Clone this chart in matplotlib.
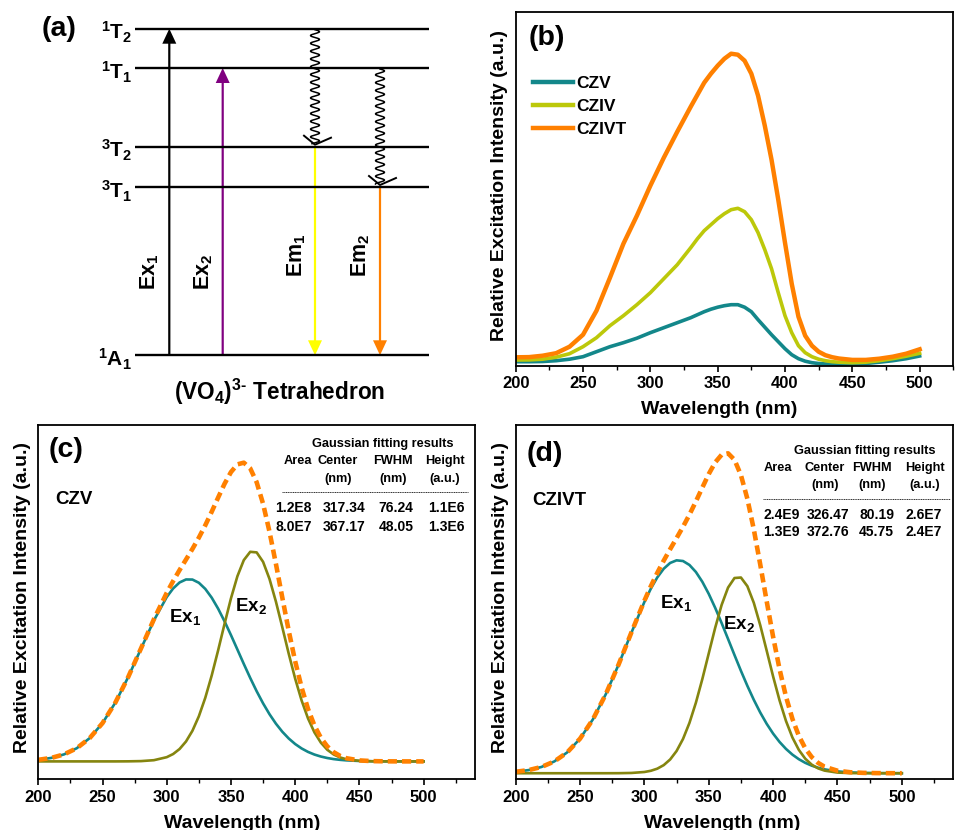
import numpy as np
import matplotlib
matplotlib.use('Agg')
import matplotlib.pyplot as plt
from matplotlib.lines import Line2D

W, H = 967, 830

plt.rcParams['font.family'] = ['Liberation Sans', 'DejaVu Sans']
plt.rcParams['font.weight'] = 'bold'
plt.rcParams['mathtext.fontset'] = 'custom'
plt.rcParams['mathtext.rm'] = 'Liberation Sans:bold'
plt.rcParams['mathtext.bf'] = 'Liberation Sans:bold'
plt.rcParams['mathtext.it'] = 'Liberation Sans:bold'
plt.rcParams['mathtext.default'] = 'bf'

# ---- (b) measured excitation spectra ----
wl_b = [200, 210, 220, 230, 240, 250, 260, 270, 280, 290, 300, 310, 320, 330,
        335, 340, 345, 350, 355, 360, 365, 370, 375, 380, 385, 390, 395, 400,
        405, 410, 415, 420, 425, 430, 435, 440,
        450, 460, 470, 480, 490, 500]
czivt = [8.4, 8.6, 10.0, 12.5, 19, 31, 55, 88, 122, 150, 180, 208, 234, 259,
         271, 283, 292, 300, 307, 312, 311, 305, 292, 270, 240, 206, 166, 123,
         82, 49, 30, 20, 14, 10.5, 8.5, 7.2,
         5.8, 5.8, 7, 9, 12, 16.4]
cziv = [5.7, 5.8, 6.5, 8.5, 12, 19, 28, 40, 50, 61, 73, 87, 101, 118,
        127, 135, 141, 147, 152, 156, 157.4, 154, 146, 133, 116, 97, 73, 50,
        33, 20, 13, 9, 6.5, 5, 4, 3.5,
        3, 3.5, 5, 7, 9.5, 12.4]
czv = [4, 4, 4.2, 5, 6.5, 9, 14, 19, 23, 27.5, 33, 38, 43, 48,
       51, 54, 56.5, 58.5, 60, 61, 61, 58.5, 54, 46, 38.5, 31, 24, 17,
       11, 7, 4.5, 3, 2.2, 1.8, 1.6, 1.5,
       1.6, 2.2, 3.5, 5, 7, 9.7]

# ---- (c), (d) gaussian components and cumulative fit ----
wl_fit = [200, 210, 220, 230, 240, 250, 260, 270, 280, 290,
          300, 305, 310, 315, 320, 325, 330, 335, 340, 345, 350, 355, 360, 365,
          370, 375, 380, 385, 390, 395, 400, 405, 410, 415, 420, 425, 430, 435,
          440, 450, 460, 470, 480, 490, 500]
czv_ex1 = [0.0096, 0.0209, 0.0422, 0.0797, 0.1405, 0.2311, 0.3549, 0.5088, 0.6808, 0.8505,
           0.9919, 1.0438, 1.0798, 1.0979, 1.0973, 1.0780, 1.0409, 0.9881, 0.9218, 0.8454,
           0.7621, 0.6753, 0.5881, 0.5035, 0.4236, 0.3504, 0.2849, 0.2277, 0.1789, 0.1381,
           0.1048, 0.0782, 0.0573, 0.0413, 0.0293, 0.0204, 0.0139, 0.0094, 0.0062,
           0.0026, 0.0010, 0.0004, 0.0001, 0.0, 0.0]
czv_ex2 = [0, 0, 0, 0, 0, 0, 0, 0.0004, 0.0018, 0.0073,
           0.0255, 0.0446, 0.0749, 0.1202, 0.1848, 0.2722, 0.3838, 0.5182, 0.6700, 0.8297,
           0.9837, 1.1171, 1.2146, 1.2648, 1.2612, 1.2043, 1.1012, 0.9643, 0.8086, 0.6492,
           0.4992, 0.3677, 0.2592, 0.1750, 0.1132, 0.0701, 0.0416, 0.0236, 0.0128,
           0.0033, 0.0007, 0.0001, 0, 0, 0]
czv_sum = [0.0096, 0.0209, 0.0422, 0.0797, 0.1405, 0.2311, 0.3549, 0.5092, 0.6826, 0.8578,
           1.0174, 1.0884, 1.1547, 1.2181, 1.2821, 1.3502, 1.4247, 1.5063, 1.5918, 1.6751,
           1.7458, 1.7924, 1.8027, 1.7683, 1.6848, 1.5547, 1.3861, 1.1920, 0.9875, 0.7873,
           0.6040, 0.4459, 0.3165, 0.2163, 0.1425, 0.0905, 0.0555, 0.0330, 0.0190,
           0.0059, 0.0017, 0.0005, 0.0001, 0, 0]
czivt_ex1 = [0.0180, 0.0382, 0.0765, 0.1439, 0.2541, 0.4218, 0.6579, 0.9644, 1.3282, 1.7191,
             2.0909, 2.2527, 2.3897, 2.4957, 2.5664, 2.5983, 2.5899, 2.5418, 2.4561, 2.3366,
             2.1887, 2.0184, 1.8328, 1.6385, 1.4423, 1.2498, 1.0666, 0.8960, 0.7410, 0.6034,
             0.4839, 0.3819, 0.2969, 0.2271, 0.1712, 0.1269, 0.0927, 0.0667, 0.0472,
             0.0226, 0.0101, 0.0043, 0.0017, 0.0006, 0.0002]
czivt_ex2 = [0, 0, 0, 0, 0, 0, 0, 0.0001, 0.0006, 0.0035,
             0.0152, 0.0299, 0.0557, 0.0990, 0.1679, 0.2715, 0.4183, 0.6144, 0.8606, 1.1491,
             1.4630, 1.7755, 2.0542, 2.2658, 2.3825, 2.3885, 2.2828, 2.0798, 1.8067, 1.4962,
             1.1810, 0.8890, 0.6377, 0.4363, 0.2846, 0.1769, 0.1048, 0.0593, 0.0319,
             0.0080, 0.0017, 0.0003, 0, 0, 0]
czivt_sum = [0.0180, 0.0382, 0.0765, 0.1439, 0.2541, 0.4218, 0.6579, 0.9645, 1.3288, 1.7226,
             2.1061, 2.2826, 2.4454, 2.5947, 2.7343, 2.8698, 3.0082, 3.1562, 3.3167, 3.4857,
             3.6517, 3.7939, 3.8870, 3.9043, 3.8248, 3.6383, 3.3494, 2.9758, 2.5477, 2.0996,
             1.6649, 1.2709, 0.9346, 0.6634, 0.4558, 0.3038, 0.1975, 0.1260, 0.0791,
             0.0306, 0.0118, 0.0046, 0.0017, 0.0006, 0.0002]

fit_header = ['Area', 'Center', 'FWHM', 'Height']
fit_units = ['', '(nm)', '(nm)', '(a.u.)']
czv_table = [['1.2E8', '317.34', '76.24', '1.1E6'],
             ['8.0E7', '367.17', '48.05', '1.3E6']]
czivt_table = [['2.4E9', '326.47', '80.19', '2.6E7'],
               ['1.3E9', '372.76', '45.75', '2.4E7']]

# ---- (a) energy level scheme ----
level_labels = [r'$^{1}$T$_{2}$', r'$^{1}$T$_{1}$', r'$^{3}$T$_{2}$',
                r'$^{3}$T$_{1}$', r'$^{1}$A$_{1}$']
level_y = [28.7, 68, 146.7, 187, 355.3]

TEAL = '#13878a'
OLIVE = '#85850f'
ORANGE = '#ff8000'
LIME = '#bcc80a'


def px_text(x, y, s, **kw):
    fig.text(x / W, 1 - y / H, s, **kw)


def px_axes(x0, y0, x1, y1):
    return fig.add_axes([x0 / W, 1 - y1 / H, (x1 - x0) / W, (y1 - y0) / H])


def style_axes(ax, xlabel_x):
    ax.set_xticks([200, 250, 300, 350, 400, 450, 500])
    ax.set_xticks([225, 275, 325, 375, 425, 475, 525], minor=True)
    ax.set_yticks([])
    ax.tick_params(axis='x', which='major', direction='out', length=4,
                   width=1.2, labelsize=12, pad=3.5)
    ax.tick_params(axis='x', which='minor', direction='out', length=3, width=1.0)
    for sp in ax.spines.values():
        sp.set_linewidth(1.3)
    ax.set_xlabel('Wavelength (nm)', fontsize=14, fontweight='bold')
    ax.set_ylabel('Relative Excitation Intensity (a.u.)', fontsize=14,
                  fontweight='bold')
    ax.xaxis.set_label_coords(xlabel_x, -0.1)
    ax.yaxis.set_label_coords(-0.016, 0.512)


def fit_table(title_x, title_y, head_x, data_x, rows, rule, row_y):
    px_text(title_x, title_y, 'Gaussian fitting results', fontsize=9.2,
            ha='center', va='center')
    for cx, hd, un in zip(head_x, fit_header, fit_units):
        px_text(cx, title_y + 17, hd, fontsize=9.2, ha='center', va='center')
        if un:
            px_text(cx, title_y + 34.5, un, fontsize=9.2, ha='center', va='center')
    fig.add_artist(Line2D([rule[0] / W, rule[1] / W],
                          [1 - (title_y + 48) / H] * 2, transform=fig.transFigure,
                          color='#333333', lw=0.7, linestyle=(0, (1.2, 0.6))))
    for ry, row in zip(row_y, rows):
        for cx, val in zip(data_x, row):
            px_text(cx, ry, val, fontsize=10, ha='center', va='center')


fig = plt.figure(figsize=(W / 100, H / 100), dpi=100)

# ---------------- (a) ----------------
axa = px_axes(0, 0, 483.5, 415)
axa.set_xlim(0, 483.5)
axa.set_ylim(415, 0)
axa.axis('off')
for lab, ly in zip(level_labels, level_y):
    axa.plot([135, 429], [ly, ly], color='black', lw=1.7, solid_capstyle='butt')
    axa.text(132, ly + 4, lab, fontsize=15, ha='right', va='center')

up = [(169.3, level_y[4], level_y[0], 'black'),
      (222.7, level_y[4], level_y[1], '#800080')]
down = [(315, level_y[2], level_y[4], '#ffff00'),
        (380, level_y[3], level_y[4], ORANGE)]
for x, y0, y1, col in up + down:
    axa.arrow(x, y0, 0, y1 - y0, width=2.2, head_width=14, head_length=15,
              length_includes_head=True, color=col, lw=0)

# wavy non-radiative relaxation
for x, y0, y1 in [(315, level_y[0] + 1, level_y[2] - 3),
                  (380, level_y[1] + 1, level_y[3] - 3)]:
    yy = np.linspace(y0, y1, 300)
    axa.plot(x + 4.5 * np.sin((yy - y0) / 7.8 * 2 * np.pi), yy, color='black',
             lw=1.1)
    axa.plot([x - 11, x, x + 16], [y1 - 8, y1 + 1, y1 - 6], color='black', lw=1.4)

trans_labels = [(150, 272, r'Ex$_1$'), (204, 272, r'Ex$_2$'),
                (296.5, 255, r'Em$_1$'), (361, 255, r'Em$_2$')]
for x, y, s in trans_labels:
    axa.text(x, y, s, fontsize=15.5, rotation=90, ha='center', va='center')
axa.text(280, 392, r'(VO$_4$)$^{3\text{-}}$ Tetrahedron', fontsize=16.3,
         ha='center', va='center')
axa.text(59.5, 28.5, '(a)', fontsize=20.5, ha='center', va='center')

# ---------------- (b) ----------------
axb = px_axes(515.7, 12.3, 953.3, 365.7)
axb.plot(wl_b, czv, color=TEAL, lw=2.6, label='CZV')
axb.plot(wl_b, cziv, color=LIME, lw=2.6, label='CZIV')
axb.plot(wl_b, czivt, color=ORANGE, lw=3.2, label='CZIVT')
axb.set_xlim(200, 500)
axb.set_ylim(0, 353.4)
style_axes(axb, 0.465)
axb.yaxis.set_label_coords(-0.0176, 0.51)
leg = axb.legend(loc='upper left', bbox_to_anchor=(0.0236, 0.84), frameon=False,
                 fontsize=12.5, handlelength=2.3, handletextpad=0.2,
                 labelspacing=0.45, borderaxespad=0)
for ln in leg.get_lines():
    ln.set_linewidth(3.2)
axb.text(0.070, 0.926, '(b)', transform=axb.transAxes, fontsize=20.5,
         ha='center', va='center')

# ---------------- (c) ----------------
axc = px_axes(38.3, 425, 475, 779.3)
axc.plot(wl_fit, czv_ex1, color=TEAL, lw=1.9)
axc.plot(wl_fit, czv_ex2, color=OLIVE, lw=1.9)
axc.plot(wl_fit, czv_sum, color=ORANGE, lw=3.3, linestyle=(0, (2.0, 1.1)))
axc.set_xlim(200, 540)
axc.set_ylim(-0.108, 2.03)
style_axes(axc, 0.468)
axc.text(302, 0.87, r'Ex$_1$', fontsize=13.5, ha='left', va='center')
axc.text(353, 0.94, r'Ex$_2$', fontsize=13.5, ha='left', va='center')
axc.text(0.038, 0.791, 'CZV', transform=axc.transAxes, fontsize=13.5,
         ha='left', va='center')
axc.text(0.0646, 0.929, '(c)', transform=axc.transAxes, fontsize=20.5,
         ha='center', va='center')
fit_table(383, 444.3, [298, 338, 393, 445], [293.3, 344, 396, 446.7], czv_table,
          (281.7, 468), [508.3, 526.7])

# ---------------- (d) ----------------
axd = px_axes(515.7, 425, 953.3, 779.3)
axd.plot(wl_fit, czivt_ex1, color=TEAL, lw=1.9)
axd.plot(wl_fit, czivt_ex2, color=OLIVE, lw=1.9)
axd.plot(wl_fit, czivt_sum, color=ORANGE, lw=3.3, linestyle=(0, (2.0, 1.1)))
axd.set_xlim(200, 540)
axd.set_ylim(-0.074, 4.25)
style_axes(axd, 0.471)
axd.text(312, 2.08, r'Ex$_1$', fontsize=13.5, ha='left', va='center')
axd.text(361, 1.82, r'Ex$_2$', fontsize=13.5, ha='left', va='center')
axd.text(0.037, 0.788, 'CZIVT', transform=axd.transAxes, fontsize=13.5,
         ha='left', va='center')
axd.text(0.066, 0.917, '(d)', transform=axd.transAxes, fontsize=20.5,
         ha='center', va='center')
fit_table(865, 450.7, [778.3, 825, 871.7, 925], [781.7, 828.3, 876.7, 923.3],
          czivt_table, (763, 950), [515, 532.3])

fig.savefig('out.png', dpi=100)
